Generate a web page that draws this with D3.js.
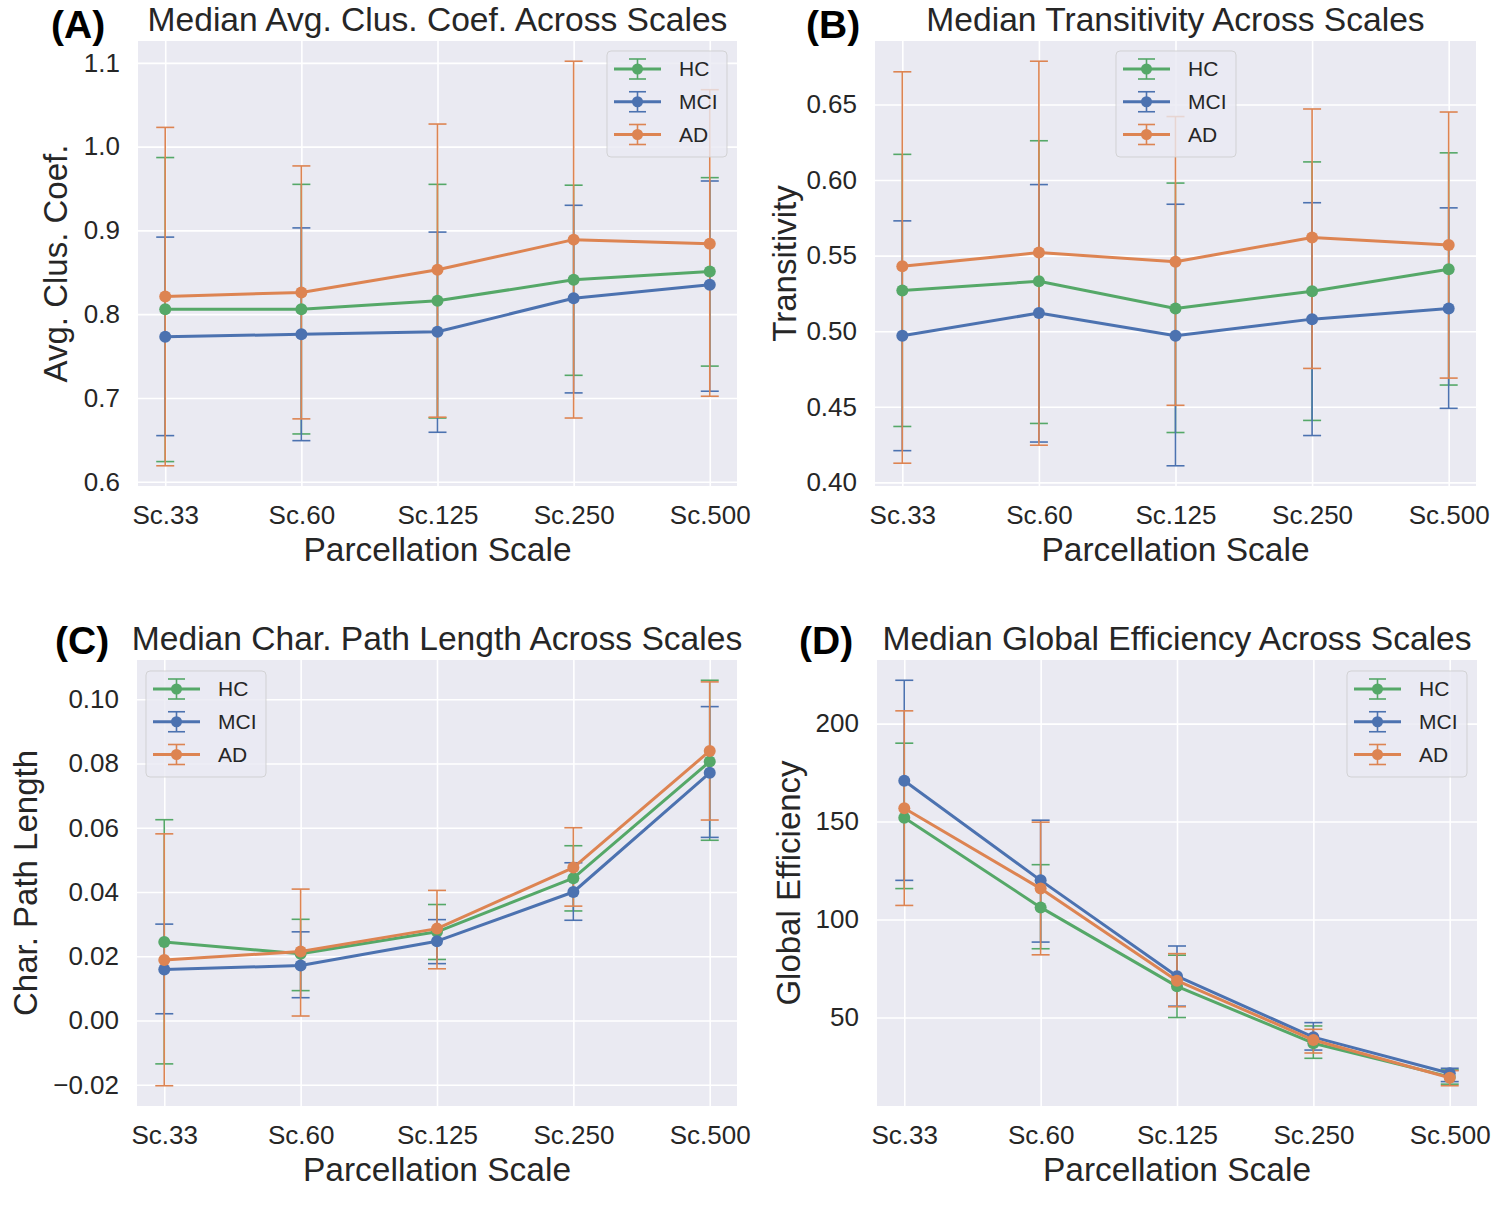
<!DOCTYPE html>
<html><head><meta charset="utf-8">
<script src="https://cdn.jsdelivr.net/npm/d3@7"></script>
<style>body{margin:0;background:#fff}</style>
</head><body>
<svg id="chart" width="1500" height="1205"></svg>
<script>
// ---------------- DATA ----------------
const categories = ["Sc.33", "Sc.60", "Sc.125", "Sc.250", "Sc.500"];
const groups = ["HC", "MCI", "AD"];

// (A) Average clustering coefficient
const clusHC = [0.806, 0.806, 0.816, 0.841, 0.851];
const clusHCLow = [0.624, 0.657, 0.676, 0.727, 0.738];
const clusHCHigh = [0.987, 0.955, 0.955, 0.954, 0.963];
const clusMCI = [0.773, 0.776, 0.779, 0.819, 0.835];
const clusMCILow = [0.655, 0.649, 0.659, 0.706, 0.708];
const clusMCIHigh = [0.892, 0.903, 0.898, 0.930, 0.959];
const clusAD = [0.821, 0.826, 0.853, 0.889, 0.884];
const clusADLow = [0.619, 0.675, 0.677, 0.676, 0.702];
const clusADHigh = [1.023, 0.977, 1.027, 1.102, 1.068];
const clusTicks = [0.6, 0.7, 0.8, 0.9, 1.0, 1.1];

// (B) Transitivity
const transHC = [0.527, 0.533, 0.515, 0.5265, 0.541];
const transHCLow = [0.437, 0.439, 0.433, 0.441, 0.4644];
const transHCHigh = [0.617, 0.626, 0.598, 0.612, 0.618];
const transMCI = [0.497, 0.512, 0.497, 0.508, 0.515];
const transMCILow = [0.421, 0.4267, 0.411, 0.431, 0.449];
const transMCIHigh = [0.573, 0.597, 0.584, 0.585, 0.5816];
const transAD = [0.543, 0.552, 0.546, 0.562, 0.557];
const transADLow = [0.4127, 0.4246, 0.451, 0.4754, 0.469];
const transADHigh = [0.6716, 0.6786, 0.642, 0.647, 0.645];
const transTicks = [0.40, 0.45, 0.50, 0.55, 0.60, 0.65];

// (C) Characteristic path length
const pathHC = [0.0244, 0.0208, 0.0276, 0.0443, 0.0806];
const pathHCLow = [-0.0135, 0.0093, 0.0190, 0.0341, 0.0561];
const pathHCHigh = [0.0625, 0.0315, 0.0361, 0.0544, 0.1059];
const pathMCI = [0.0159, 0.0171, 0.0247, 0.0400, 0.0771];
const pathMCILow = [0.0021, 0.0071, 0.0177, 0.0312, 0.0570];
const pathMCIHigh = [0.0300, 0.0276, 0.0314, 0.0491, 0.0977];
const pathAD = [0.0188, 0.0215, 0.0286, 0.0476, 0.0839];
const pathADLow = [-0.0203, 0.0014, 0.0161, 0.0356, 0.0624];
const pathADHigh = [0.0581, 0.0409, 0.0405, 0.0600, 0.1054];
const pathTicks = [-0.02, 0.00, 0.02, 0.04, 0.06, 0.08, 0.10];

// (D) Global efficiency
const effHC = [152.0, 106.2, 65.9, 36.9, 19.7];
const effHCLow = [115.8, 85.1, 50.0, 29.2, 16.0];
const effHCHigh = [190.0, 128.0, 81.8, 45.7, 23.3];
const effMCI = [170.8, 120.0, 71.1, 40.0, 21.6];
const effMCILow = [120.0, 88.5, 55.8, 33.4, 17.3];
const effMCIHigh = [222.1, 150.7, 86.5, 47.4, 24.1];
const effAD = [156.8, 115.8, 68.8, 38.5, 19.3];
const effADLow = [107.2, 82.0, 55.5, 31.9, 15.2];
const effADHigh = [206.5, 149.7, 82.6, 44.0, 22.9];
const effTicks = [50, 100, 150, 200];

// ---------------- STYLE ----------------
const colors = {HC: "#55A868", MCI: "#4C72B0", AD: "#DD8452"};
const font = "'Liberation Sans', Arial, Helvetica, sans-serif";
const textColor = "#262626";
const bg = "#EAEAF2";

const panels = [
  {label: "(A)", labelPos: [51, 38], title: "Median Avg. Clus. Coef. Across Scales", ylabel: "Avg. Clus. Coef.",
   ylabelX: 67, box: [138, 737, 41, 486], ticks: clusTicks, fmt: ".1f", legend: [607, 51],
   series: [[clusHC, clusHCLow, clusHCHigh], [clusMCI, clusMCILow, clusMCIHigh], [clusAD, clusADLow, clusADHigh]]},
  {label: "(B)", labelPos: [806, 38], title: "Median Transitivity Across Scales", ylabel: "Transitivity",
   ylabelX: 796, box: [875, 1476, 41, 486], ticks: transTicks, fmt: ".2f", legend: [1116, 51],
   series: [[transHC, transHCLow, transHCHigh], [transMCI, transMCILow, transMCIHigh], [transAD, transADLow, transADHigh]]},
  {label: "(C)", labelPos: [55, 654], title: "Median Char. Path Length Across Scales", ylabel: "Char. Path Length",
   ylabelX: 37, box: [137, 737, 660, 1106], ticks: pathTicks, fmt: ".2f", legend: [146, 671],
   series: [[pathHC, pathHCLow, pathHCHigh], [pathMCI, pathMCILow, pathMCIHigh], [pathAD, pathADLow, pathADHigh]]},
  {label: "(D)", labelPos: [799, 654], title: "Median Global Efficiency Across Scales", ylabel: "Global Efficiency",
   ylabelX: 800, box: [877, 1477, 660, 1106], ticks: effTicks, fmt: "d", legend: [1347, 671],
   series: [[effHC, effHCLow, effHCHigh], [effMCI, effMCILow, effMCIHigh], [effAD, effADLow, effADHigh]]}
];

const svg = d3.select("#chart");
svg.append("rect").attr("width", 1500).attr("height", 1205).attr("fill", "#fff");

function drawPanel(p) {
  const [L, R, T, B] = p.box;
  const g = svg.append("g");
  const x = d3.scalePoint().domain(categories).range([L, R]).padding(0.2);
  const all = p.series.flat(2);
  const mn = d3.min(all), mx = d3.max(all), pad = (mx - mn) * 0.05;
  const y = d3.scaleLinear().domain([mn - pad, mx + pad]).range([B, T]);

  g.append("rect").attr("x", L).attr("y", T).attr("width", R - L).attr("height", B - T).attr("fill", bg);

  const ya = g.append("g").attr("transform", `translate(${L},0)`)
    .call(d3.axisLeft(y).tickValues(p.ticks).tickFormat(d3.format(p.fmt)).tickSize(-(R - L)).tickPadding(18));
  ya.select(".domain").remove();
  ya.selectAll(".tick line").attr("stroke", "#fff").attr("stroke-width", 1.6);
  ya.selectAll(".tick text").attr("fill", textColor).style("font-size", "26px").style("font-family", font);

  const xa = g.append("g").attr("transform", `translate(0,${B})`)
    .call(d3.axisBottom(x).tickSize(-(B - T)).tickPadding(0));
  xa.select(".domain").remove();
  xa.selectAll(".tick line").attr("stroke", "#fff").attr("stroke-width", 1.6);
  xa.selectAll(".tick text").attr("fill", textColor).attr("y", 38).attr("dy", null)
    .style("font-size", "26px").style("font-family", font);

  // error bars (all series first)
  p.series.forEach((s, si) => {
    const col = colors[groups[si]];
    const eg = g.append("g").attr("stroke", col).attr("stroke-width", 1.6).attr("fill", "none");
    categories.forEach((c, i) => {
      const cx = x(c), y0 = y(s[1][i]), y1 = y(s[2][i]);
      eg.append("line").attr("x1", cx).attr("x2", cx).attr("y1", y0).attr("y2", y1);
      eg.append("line").attr("x1", cx - 9).attr("x2", cx + 9).attr("y1", y0).attr("y2", y0);
      eg.append("line").attr("x1", cx - 9).attr("x2", cx + 9).attr("y1", y1).attr("y2", y1);
    });
  });
  // lines + markers
  p.series.forEach((s, si) => {
    const col = colors[groups[si]];
    const line = d3.line().x((d, i) => x(categories[i])).y(d => y(d));
    g.append("path").datum(s[0]).attr("d", line).attr("fill", "none").attr("stroke", col)
      .attr("stroke-width", 3).attr("stroke-linejoin", "round").attr("stroke-linecap", "round");
    g.selectAll(null).data(s[0]).enter().append("circle")
      .attr("cx", (d, i) => x(categories[i])).attr("cy", d => y(d)).attr("r", 6).attr("fill", col);
  });

  // legend
  const [lx, ly] = p.legend;
  const lg = g.append("g").attr("transform", `translate(${lx},${ly})`);
  lg.append("rect").attr("width", 120).attr("height", 106).attr("rx", 4).attr("ry", 4)
    .attr("fill", bg).attr("fill-opacity", 0.8).attr("stroke", "#cccccc").attr("stroke-opacity", 0.8);
  groups.forEach((gr, i) => {
    const yy = 18 + 32.75 * i, col = colors[gr], cx = 30.5;
    const r = lg.append("g").attr("stroke", col);
    r.append("line").attr("x1", cx).attr("x2", cx).attr("y1", yy - 10).attr("y2", yy + 10).attr("stroke-width", 1.6);
    r.append("line").attr("x1", cx - 8.5).attr("x2", cx + 8.5).attr("y1", yy - 10).attr("y2", yy - 10).attr("stroke-width", 1.6);
    r.append("line").attr("x1", cx - 8.5).attr("x2", cx + 8.5).attr("y1", yy + 10).attr("y2", yy + 10).attr("stroke-width", 1.6);
    r.append("line").attr("x1", 7).attr("x2", 54).attr("y1", yy).attr("y2", yy).attr("stroke-width", 2.8);
    lg.append("circle").attr("cx", cx).attr("cy", yy).attr("r", 5.5).attr("fill", col);
    lg.append("text").attr("x", 72).attr("y", yy + 7.3).text(gr).attr("fill", textColor)
      .style("font-size", "21px").style("font-family", font);
  });

  // texts
  g.append("text").attr("x", (L + R) / 2).attr("y", T - 10.5).attr("text-anchor", "middle")
    .attr("fill", textColor).style("font-size", "33.6px").style("font-family", font).text(p.title);
  g.append("text").attr("x", (L + R) / 2).attr("y", B + 75).attr("text-anchor", "middle")
    .attr("fill", textColor).style("font-size", "33.5px").style("font-family", font).text("Parcellation Scale");
  g.append("text").attr("transform", `translate(${p.ylabelX},${(T + B) / 2}) rotate(-90)`).attr("text-anchor", "middle")
    .attr("fill", textColor).style("font-size", "33px").style("font-family", font).text(p.ylabel);
  g.append("text").attr("x", p.labelPos[0]).attr("y", p.labelPos[1]).attr("fill", "#000")
    .style("font-size", "39px").style("font-weight", "bold").style("font-family", font).text(p.label);
}

panels.forEach(drawPanel);
</script>
</body></html>
